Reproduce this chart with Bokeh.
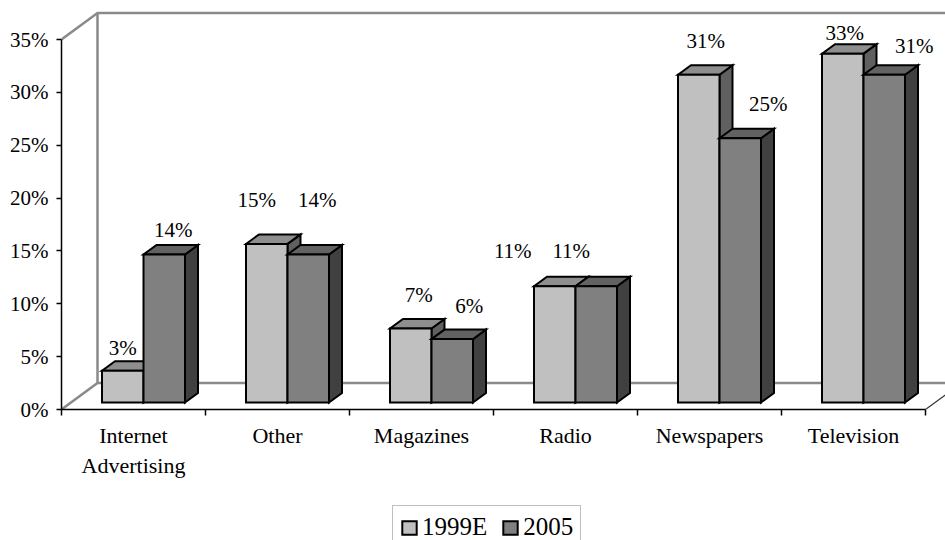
from bokeh.plotting import figure
from bokeh.layouts import column
from bokeh.models import (Range1d, LinearAxis, FixedTicker, PrintfTickFormatter,
                          Legend, LegendItem)
from bokeh.embed import file_html
from bokeh.resources import INLINE

# ---- data -------------------------------------------------------------
categories = ["Internet\nAdvertising", "Other", "Magazines", "Radio",
              "Newspapers", "Television"]
series_names = ["1999E", "2005"]
share_1999e = [3, 15, 7, 11, 31, 33]
share_2005 = [14, 14, 6, 11, 25, 31]
y_ticks = [0, 5, 10, 15, 20, 25, 30, 35]

# ---- styling ----------------------------------------------------------
FONT = "Liberation Serif"
W = 945
CHART_H, LEGEND_H = 500, 40
LEFT, FRAME_H = 61, 409
PX_PER_CAT = 144.0
PX_PER_PCT = 370.0 / 35.0

FRONT = ["#c0c0c0", "#808080"]
TOPS = ["#8e8e8e", "#626262"]
SIDES = ["#606060", "#404040"]

# per-label nudges in screen pixels (right, up)
label_nudge_x = [[0, -10, 8, -42, 7, 2], [9, 9, 17, -25, 28, 30]]
label_nudge_up = [[23, 44, 34, 35, 34, 21], [25, 55, 33, 35, 34, 29]]

frame_w = W - LEFT
x_end = frame_w / PX_PER_CAT
y_end = FRAME_H / PX_PER_PCT


def dx(px):
    return px / PX_PER_CAT


def dy(px):
    return px / PX_PER_PCT


WALL_DX, WALL_DY = dx(36), dy(26.5)
SHIFT_X, SHIFT_Y = dx(10), dy(7)
BAR_W = dx(41.5)
DEPTH_X, DEPTH_Y = dx(13), dy(9.5)

p = figure(width=W, height=CHART_H, x_range=Range1d(0, x_end), y_range=Range1d(0, y_end),
           output_backend="svg", toolbar_location=None,
           x_axis_location=None, y_axis_location=None,
           min_border_left=LEFT, min_border_bottom=CHART_H - FRAME_H,
           min_border_top=0, min_border_right=0)
p.outline_line_color = None
p.xgrid.visible = False
p.ygrid.visible = False
p.background_fill_color = "white"
p.border_fill_color = "white"

n = len(categories)
top_val = y_ticks[-1]

# back wall and floor edges
wall = dict(line_color="#8a8a8a", line_width=2.5)
p.line([0, WALL_DX], [top_val, top_val + WALL_DY], **wall)
p.line([WALL_DX, WALL_DX, n + WALL_DX], [WALL_DY, top_val + WALL_DY, top_val + WALL_DY], **wall)
p.line([0, WALL_DX, n + WALL_DX], [0, WALL_DY, WALL_DY], **wall)
p.line([n, n + WALL_DX], [0, WALL_DY], line_color="#333333", line_width=1.2)

# 3-D bars: side face, top face, then front face
outline = dict(line_color="black", line_width=2, line_join="miter")
for k, vals in enumerate([share_1999e, share_2005]):
    lefts = [i + 0.5 + SHIFT_X - BAR_W + k * BAR_W for i in range(n)]
    rights = [l + BAR_W for l in lefts]
    bottoms = [SHIFT_Y] * n
    tops = [SHIFT_Y + v for v in vals]
    p.patches(xs=[[r, r + DEPTH_X, r + DEPTH_X, r] for r in rights],
              ys=[[b, b + DEPTH_Y, t + DEPTH_Y, t] for b, t in zip(bottoms, tops)],
              fill_color=SIDES[k], **outline)
    p.patches(xs=[[l, r, r + DEPTH_X, l + DEPTH_X] for l, r in zip(lefts, rights)],
              ys=[[t, t, t + DEPTH_Y, t + DEPTH_Y] for t in tops],
              fill_color=TOPS[k], **outline)
    p.quad(left=lefts, right=rights, bottom=bottoms, top=tops,
           fill_color=FRONT[k], **outline)
    p.text(x=[(l + rr) / 2 for l, rr in zip(lefts, rights)], y=tops,
           text=[f"{v}%" for v in vals],
           x_offset=label_nudge_x[k], y_offset=[-u for u in label_nudge_up[k]],
           text_align="center", text_baseline="middle",
           text_font=FONT, text_font_size="21px", text_color="black")

# value axis
yaxis = LinearAxis(ticker=FixedTicker(ticks=y_ticks),
                   formatter=PrintfTickFormatter(format="%d%%"),
                   bounds=(0, top_val))
yaxis.axis_line_color = "black"
yaxis.axis_line_width = 1.5
yaxis.major_tick_line_color = "black"
yaxis.major_tick_line_width = 1.5
yaxis.major_tick_out = 5
yaxis.major_tick_in = 0
yaxis.minor_tick_line_color = None
yaxis.major_label_text_font = FONT
yaxis.major_label_text_font_size = "21px"
yaxis.major_label_text_color = "black"
yaxis.major_label_standoff = 8
p.add_layout(yaxis, "left")

# category axis: labels at the centres, tick marks between categories
centres = [i + 0.5 for i in range(n)]
xaxis = LinearAxis(ticker=FixedTicker(ticks=centres, minor_ticks=list(range(n + 1))),
                   bounds=(0, n),
                   major_label_overrides={c: lab for c, lab in zip(centres, categories)})
xaxis.axis_line_color = "black"
xaxis.axis_line_width = 1.5
xaxis.major_tick_line_color = None
xaxis.major_tick_out = 0
xaxis.major_tick_in = 0
xaxis.minor_tick_line_color = "black"
xaxis.minor_tick_line_width = 1.5
xaxis.minor_tick_out = 6
xaxis.minor_tick_in = 0
xaxis.major_label_text_font = FONT
xaxis.major_label_text_font_size = "22px"
xaxis.major_label_text_color = "black"
xaxis.major_label_standoff = 7
p.add_layout(xaxis, "below")

# legend strip under the chart; its frame lines up with the chart frame
leg = figure(width=W, height=LEGEND_H, x_range=Range1d(0, 1), y_range=Range1d(0, 1),
             output_backend="svg", toolbar_location=None,
             x_axis_location=None, y_axis_location=None,
             min_border_left=0, min_border_right=0, min_border_top=0, min_border_bottom=0)
leg.outline_line_color = None
leg.xgrid.visible = False
leg.ygrid.visible = False
# swatch sources for the legend keys, kept outside the visible range
swatches = [leg.quad(left=[-3], right=[-2], bottom=[-3], top=[-2],
                     fill_color=FRONT[k], **outline)
            for k in range(len(series_names))]
legend = Legend(items=[LegendItem(label=name, renderers=[r])
                       for name, r in zip(series_names, swatches)],
                orientation="horizontal", location=(392 - LEFT, -9),
                label_text_font=FONT, label_text_font_size="25px",
                label_text_color="black",
                glyph_width=18, glyph_height=17, label_standoff=4,
                spacing=14, padding=7, margin=0,
                border_line_color="#808080", border_line_width=1.5,
                background_fill_color="white", background_fill_alpha=1.0)
leg.add_layout(legend)

page = column(p, leg, spacing=0)
open("out.html", "w").write(file_html(page, INLINE))
